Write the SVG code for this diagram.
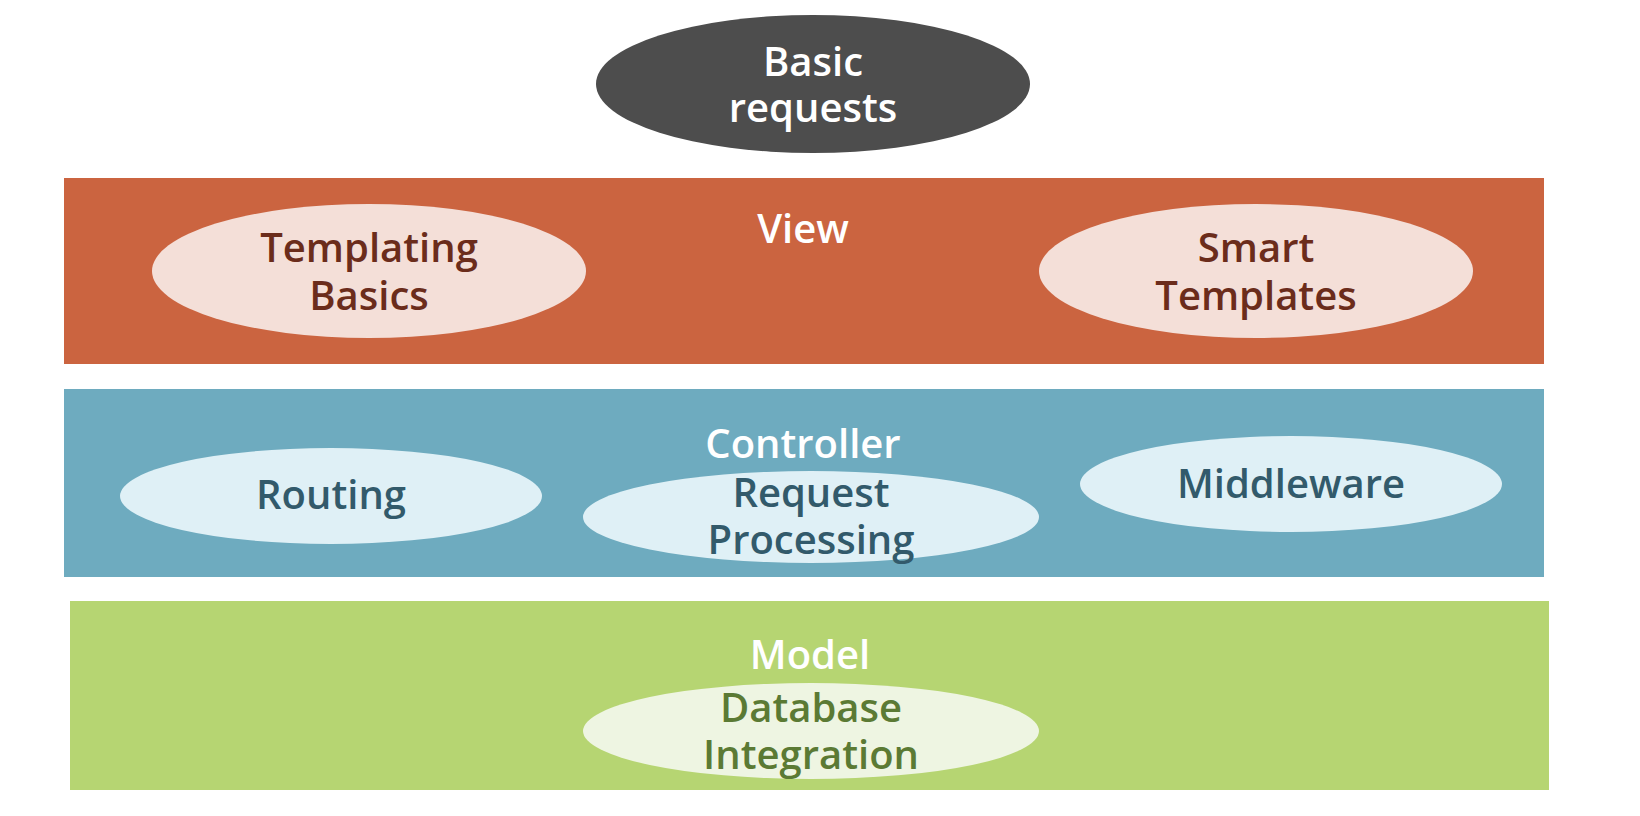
<svg xmlns="http://www.w3.org/2000/svg" width="1640" height="816" viewBox="0 0 1640 816">
<style>
text{font-family:"Open Sans","Liberation Sans",sans-serif;font-weight:600;font-size:40px;text-anchor:middle}
.w{fill:#ffffff}
.v{fill:#6b2c1b}
.c{fill:#325a6b}
.m{fill:#5b7a34}
</style>
<rect width="1640" height="816" fill="#ffffff"/>
<g id="connectors"></g>
<g id="view-layer">
<rect x="64" y="178" width="1480" height="186" fill="#cb6440"/>
<text class="w" x="803" y="243">View</text>
</g>
<g id="controller-layer">
<rect x="64" y="389" width="1480" height="188" fill="#6eabbf"/>
</g>
<g id="model-layer">
<rect x="70" y="601" width="1479" height="189" fill="#b6d572"/>
<text class="w" x="810" y="669">Model</text>
</g>
<g id="basic-requests">
<ellipse cx="813" cy="84" rx="217" ry="69" fill="#4d4d4d"/>
<text class="w" x="813" y="76">Basic</text>
<text class="w" x="813" y="122">requests</text>
</g>
<g id="templating-basics">
<ellipse cx="369" cy="271" rx="217" ry="67" fill="#f4dfd8"/>
<text class="v" x="369" y="262">Templating</text>
<text class="v" x="369" y="310">Basics</text>
</g>
<g id="smart-templates">
<ellipse cx="1256" cy="271" rx="217" ry="67" fill="#f4dfd8"/>
<text class="v" x="1256" y="262">Smart</text>
<text class="v" x="1256" y="310">Templates</text>
</g>
<g id="routing">
<ellipse cx="331" cy="496" rx="211" ry="48" fill="#dff0f6"/>
<text class="c" x="331" y="509">Routing</text>
</g>
<g id="request-processing">
<ellipse cx="811" cy="517" rx="228" ry="46" fill="#dff0f6"/>
<text class="c" x="811" y="507">Request</text>
<text class="c" x="811" y="554">Processing</text>
</g>
<g id="controller-label">
<text class="w" x="803" y="458">Controller</text>
</g>
<g id="middleware">
<ellipse cx="1291" cy="484" rx="211" ry="48" fill="#dff0f6"/>
<text class="c" x="1291" y="498">Middleware</text>
</g>
<g id="database-integration">
<ellipse cx="811" cy="731" rx="228" ry="48" fill="#eef5e2"/>
<text class="m" x="811" y="722">Database</text>
<text class="m" x="811" y="769">Integration</text>
</g>
</svg>
